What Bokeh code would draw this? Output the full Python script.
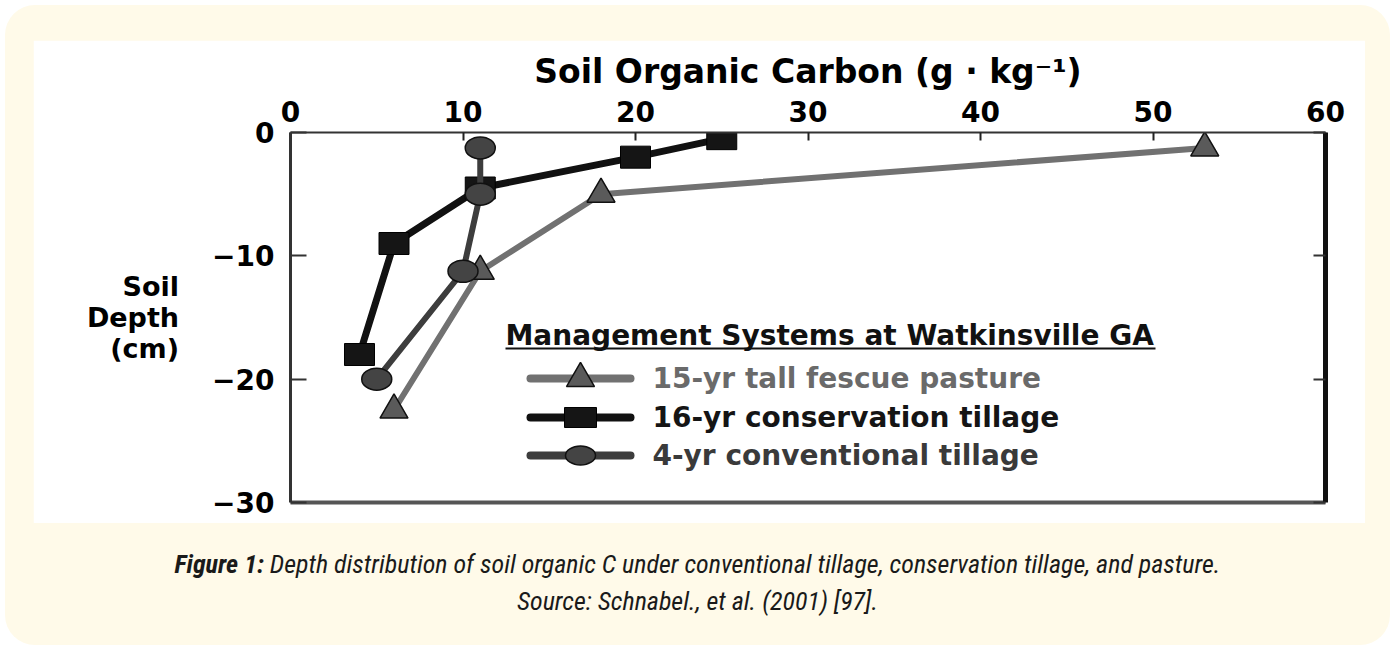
from bokeh.plotting import figure
from bokeh.models import Range1d, BoxAnnotation, Label, LinearAxis, FixedTicker, Div
from bokeh.layouts import column
from bokeh.embed import file_html
from bokeh.resources import INLINE

# ---------------- data ----------------
x_ticks = [0, 10, 20, 30, 40, 50, 60]
y_ticks = [0, -10, -20, -30]
series_names = ["15-yr tall fescue pasture", "16-yr conservation tillage", "4-yr conventional tillage"]
legend_title = "Management Systems at Watkinsville GA"
x_title = "Soil Organic Carbon (g \u00b7 kg\u207b\u00b9)"
y_title = "Soil\nDepth\n(cm)"
caption_bold = "Figure 1:"
caption_line1 = "Depth distribution of soil organic C under conventional tillage, conservation tillage, and pasture."
caption_line2 = "Source: Schnabel., et al. (2001) [97]."

pasture_soc = [53, 18, 11, 6]
pasture_depth = [-1.25, -5, -11.25, -22.5]
conservation_soc = [25, 20, 11, 6, 4]
conservation_depth = [-0.5, -2, -4.5, -9, -18]
conventional_soc = [11, 11, 10, 5]
conventional_depth = [-1.25, -5, -11.25, -20]

# ---------------- layout ----------------
OUT_W, OUT_H = 1385, 640
W, H = 1332, 483
FL, FR, FT, FB = 257, 1292, 92, 462
XMIN, XMAX, YMIN, YMAX = 0, 60, -30, 0

BOLD_FONT = "DejaVu Sans"
CREAM = "#fffae9"

p = figure(width=W, height=H, x_range=Range1d(XMIN, XMAX), y_range=Range1d(YMIN, YMAX),
           x_axis_location="above", output_backend="svg", toolbar_location=None,
           min_border_left=FL, min_border_right=W - FR, min_border_top=FT, min_border_bottom=H - FB,
           background_fill_color="white", border_fill_color="white", outline_line_color=None,
           margin=(35, 25, 0, 28))
p.grid.visible = False

# top axis
xa = p.xaxis[0]
xa.ticker = FixedTicker(ticks=x_ticks)
xa.axis_label = x_title
xa.axis_label_text_font = BOLD_FONT
xa.axis_label_text_font_style = "bold"
xa.axis_label_text_font_size = "33px"
xa.axis_label_text_color = "#000"
xa.axis_label_standoff = 7
xa.major_label_text_font = BOLD_FONT
xa.major_label_text_font_style = "bold"
xa.major_label_text_font_size = "28px"
xa.major_label_text_color = "#000"
xa.major_label_standoff = 11
xa.major_tick_in = 8
xa.major_tick_out = 0
xa.major_tick_line_width = 2
xa.major_tick_line_color = "#222"
xa.minor_tick_line_color = None
xa.axis_line_width = 2
xa.axis_line_color = "#333"

# left axis
ya = p.yaxis[0]
ya.ticker = FixedTicker(ticks=y_ticks)
ya.major_label_text_font = BOLD_FONT
ya.major_label_text_font_style = "bold"
ya.major_label_text_font_size = "28px"
ya.major_label_text_color = "#000"
ya.major_label_standoff = 16
ya.major_tick_in = 16
ya.major_tick_out = 0
ya.major_tick_line_width = 2
ya.major_tick_line_color = "#333"
ya.minor_tick_line_color = None
ya.axis_line_width = 3
ya.axis_line_color = "#333"
ya.axis_label = y_title
ya.axis_label_orientation = "horizontal"
ya.axis_label_text_font = BOLD_FONT
ya.axis_label_text_font_style = "bold"
ya.axis_label_text_font_size = "27px"
ya.axis_label_text_line_height = 0.99
ya.axis_label_text_color = "#000"
ya.axis_label_standoff = 30

# right and bottom frame edges
ra = LinearAxis(ticker=FixedTicker(ticks=y_ticks), major_label_text_color=None,
                major_tick_in=12, major_tick_out=0, major_tick_line_width=2, major_tick_line_color="#333",
                minor_tick_line_color=None, axis_line_width=5, axis_line_color="#111")
p.add_layout(ra, "right")
ba = LinearAxis(ticker=FixedTicker(ticks=[]), major_label_text_color=None,
                major_tick_line_color=None, minor_tick_line_color=None,
                axis_line_width=4, axis_line_color="#555")
p.add_layout(ba, "below")

# ---------------- series ----------------
PAST_LINE, PAST_FILL = "#717171", "#5a5a5a"
CONS_LINE, CONS_FILL = "#111111", "#151515"
CONV_LINE, CONV_FILL = "#3d3d3d", "#444444"

p.line(pasture_soc, pasture_depth, line_color=PAST_LINE, line_width=6, line_join="round")
p.scatter(pasture_soc, pasture_depth, marker="triangle", size=28, fill_color=PAST_FILL,
          line_color="#111", line_width=1.5)

p.line(conservation_soc, conservation_depth, line_color=CONS_LINE, line_width=7, line_join="round")
p.rect(conservation_soc, conservation_depth, width=30, height=22, width_units="screen", height_units="screen",
       fill_color=CONS_FILL, line_color="#000", line_width=1)

p.line(conventional_soc, conventional_depth, line_color=CONV_LINE, line_width=6, line_join="round")
p.ellipse(conventional_soc, conventional_depth, width=30, height=22, width_units="screen", height_units="screen",
          fill_color=CONV_FILL, line_color="#111", line_width=1.5)

# ---------------- legend (custom, inside the frame) ----------------
def cx(px):
    return XMIN + (px - FL) / (FR - FL) * (XMAX - XMIN)


def cy(py):
    return YMAX - (py - FT) / (FB - FT) * (YMAX - YMIN)


rows = [338, 377, 415]
k0, k1, km = 497, 597, 547
p.line([cx(k0), cx(k1)], [cy(rows[0])] * 2, line_color=PAST_LINE, line_width=8, line_cap="round")
p.scatter([cx(km)], [cy(rows[0])], marker="triangle", size=28, fill_color=PAST_FILL, line_color="#111", line_width=1.5)
p.line([cx(k0), cx(k1)], [cy(rows[1])] * 2, line_color=CONS_LINE, line_width=8, line_cap="round")
p.rect([cx(km)], [cy(rows[1])], width=32, height=20, width_units="screen", height_units="screen",
       fill_color=CONS_FILL, line_color="#000")
p.line([cx(k0), cx(k1)], [cy(rows[2])] * 2, line_color=CONV_LINE, line_width=8, line_cap="round")
p.ellipse([cx(km)], [cy(rows[2])], width=30, height=19, width_units="screen", height_units="screen",
          fill_color=CONV_FILL, line_color="#111", line_width=1.5)

label_colors = ["#6a6a6a", "#151515", "#3a3a3a"]
for name, ry, col in zip(series_names, rows, label_colors):
    p.add_layout(Label(x=619, y=ry, x_units="canvas", y_units="canvas", text=name,
                       text_font=BOLD_FONT, text_font_style="bold", text_font_size="28px",
                       text_color=col, text_align="left", text_baseline="middle"))

p.add_layout(Label(x=472, y=295, x_units="canvas", y_units="canvas", text=legend_title,
                   text_font=BOLD_FONT, text_font_style="bold", text_font_size="28px",
                   text_color="#111", text_align="left", text_baseline="middle"))
p.add_layout(BoxAnnotation(left=472, right=1122, top=307, bottom=309,
                           left_units="canvas", right_units="canvas", top_units="canvas", bottom_units="canvas",
                           fill_color="#111", fill_alpha=1, line_color=None))

# ---------------- caption ----------------
cap_html = (
    f"<div style=\"width:{OUT_W}px; text-align:center;"
    " font-family:'Liberation Sans Narrow','Roboto Condensed','Noto Sans',sans-serif;"
    " font-style:italic; font-size:26px; line-height:37px; color:#1a1a1a;\">"
    f"<b>{caption_bold}</b> {caption_line1}<br>{caption_line2}</div>"
)
cap = Div(text=cap_html, width=OUT_W, height=80, margin=(23, 0, 0, 0))

lay = column(p, cap, width=OUT_W, height=OUT_H, margin=(5, 0, 0, 5),
             styles={"background-color": CREAM, "border-radius": "30px"})

open("out.html", "w").write(file_html(lay, INLINE))
